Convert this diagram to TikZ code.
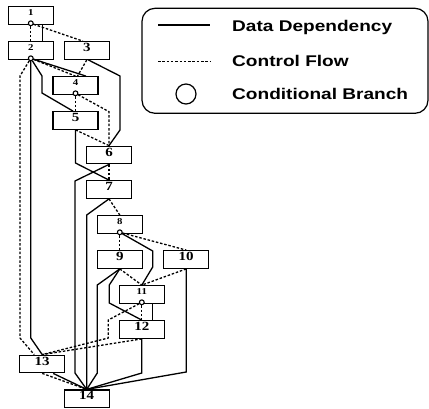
\documentclass[tikz,border=0pt]{standalone}
\usepackage{fontspec}
\usepackage{graphicx}
\newfontfamily\legendfont{Liberation Sans}
\newfontfamily\labelfont{Liberation Serif}
\newcommand{\biglab}[1]{\scalebox{1.2}[1]{\fontsize{12.5}{12.5}\selectfont\labelfont\bfseries #1}}
\newcommand{\smalllab}[1]{\scalebox{1.2}[1]{\fontsize{9}{9}\selectfont\labelfont\bfseries #1}}
\newcommand{\legendlab}[1]{\scalebox{1.23}[1]{\fontsize{15.5}{16}\selectfont\legendfont\bfseries #1}}

\begin{document}
\begin{tikzpicture}[
    x=1pt, y=-1pt,
    box/.style={rectangle,draw,fill=white,minimum width=45pt,minimum height=17.6pt,inner sep=0pt,text depth=6pt,line width=1.2pt},
    branch/.style={circle,draw,fill=white,minimum size=4.8pt,inner sep=0pt,line width=1.1pt},
    datadep/.style={line width=1.3pt},
    ctrlflow/.style={line width=1.3pt,dash pattern=on 2.5pt off 1.8pt},
    legendframe/.style={draw,line width=1.2pt,rounded corners=13pt},
    legtext/.style={anchor=base west,inner sep=0pt},
]
    \useasboundingbox (0,0) rectangle (429,409);

    % statements
    \node[box] (n1) at (30.8,15.5) {\smalllab{1}};
    \node[box] (n2) at (30.8,50.5) {\smalllab{2}};
    \node[box] (n3) at (86.8,50.5) {\biglab{3}};
    \node[box] (n4) at (75.5,85.5) {\smalllab{4}};
    \node[box] (n5) at (75.5,120.5) {\biglab{5}};
    \node[box] (n6) at (109,155) {\biglab{6}};
    \node[box] (n7) at (109,189.5) {\biglab{7}};
    \node[box] (n8) at (119.8,224.5) {\smalllab{8}};
    \node[box] (n9) at (119.8,259.5) {\biglab{9}};
    \node[box] (n10) at (186.2,259.5) {\biglab{10}};
    \node[box] (n11) at (141.8,294.5) {\smalllab{11}};
    \node[box] (n12) at (141.8,329.5) {\biglab{12}};
    \node[box] (n13) at (42.2,364) {\biglab{13}};
    \node[box] (n14) at (86.7,398.8) {\biglab{14}};

    % conditional branches
    \foreach \n in {1,2,4,8,11}
        \node[branch] (c\n) at ([yshift=1.6pt]n\n.south) {};

    % control flow
    \draw[ctrlflow] (c1) -- (n2.north);
    \draw[ctrlflow] (c1) -- ([xshift=-4pt]n3.north);
    \draw[ctrlflow] (c2) -- (20,76) -- (20,338) -- ([xshift=-8pt]n13.north);
    \draw[ctrlflow] (c2) -- (n4.north);
    \draw[ctrlflow] (n3.south) -- ([xshift=2pt]n4.north);
    \draw[ctrlflow] (c4) -- (n5.north);
    \draw[ctrlflow] (c4) -- (109,111.7) -- (n6.north);
    \draw[ctrlflow] (n5.south) -- (n6.north);
    \draw[ctrlflow] (n6.south) -- (n7.north);
    \draw[ctrlflow] (n7.south) -- (n8.north);
    \draw[ctrlflow] (c8) -- (n9.north);
    \draw[ctrlflow] (c8) -- (n10.north);
    \draw[ctrlflow] (n9.south) -- (n11.north);
    \draw[ctrlflow] (n10.south) -- (n11.north);
    \draw[ctrlflow] (c11) -- (n12.north);
    \draw[ctrlflow] (c11) -- (108.3,320) -- (108.3,338) -- (n13.north);
    \draw[ctrlflow] (n12.south) -- (n13.north);
    \draw[ctrlflow] (n13.south) -- (n14.north);

    % data dependencies
    \draw[datadep] ([xshift=11.5pt]n1.south) -- ([xshift=11.5pt]n2.north);
    \draw[datadep] (c2) -- (30.8,338) -- (n13.north);
    \draw[datadep] (c2) -- (42,76) -- (42,93) -- ([xshift=-2.5pt]n5.north);
    \draw[datadep] (c2) -- ([xshift=10.5pt]n4.north);
    \draw[datadep] ([xshift=1.5pt]n3.south) -- (120,76) -- (120,130) -- (n6.north);
    \draw[datadep] (n5.south) -- (75.5,163) -- (n7.north);
    \draw[datadep] (n6.south) -- (75,181) -- (75,373) -- (n14.north);
    \draw[datadep] (n7.south) -- (86.7,215) -- (n14.north);
    \draw[datadep] (c8) -- (152.7,251) -- (152.7,267) -- (n11.north);
    \draw[datadep] (n9.south) -- (97.3,285) -- (97.3,373) -- (n14.north);
    \draw[datadep] (n9.south) -- (109.3,285) -- (109.3,303) -- (n12.north);
    \draw[datadep] ([xshift=11pt]n11.south) -- ([xshift=11pt]n12.north);
    \draw[datadep] (n10.south) -- (186.2,372) -- (n14.north);
    \draw[datadep] (n12.south) -- (141.8,373) -- (n14.north);
    \draw[datadep] ([xshift=11pt]n13.south) -- (n14.north);

    % legend
    \draw[legendframe] (142,8.3) rectangle (428,113.3);
    \draw[datadep] (158,25) -- (210,25);
    \draw[ctrlflow] (158,61.7) -- (210,61.7);
    \node[draw,circle,minimum size=20pt,inner sep=0pt,line width=1.2pt] (lbranch) at (186,94) {};
    \node[legtext] (ldata) at (232,31.5) {\legendlab{Data Dependency}};
    \node[legtext] (lctrl) at (232,66.8) {\legendlab{Control Flow}};
    \node[legtext] (lcond) at (232,99.3) {\legendlab{Conditional Branch}};
\end{tikzpicture}
\end{document}
